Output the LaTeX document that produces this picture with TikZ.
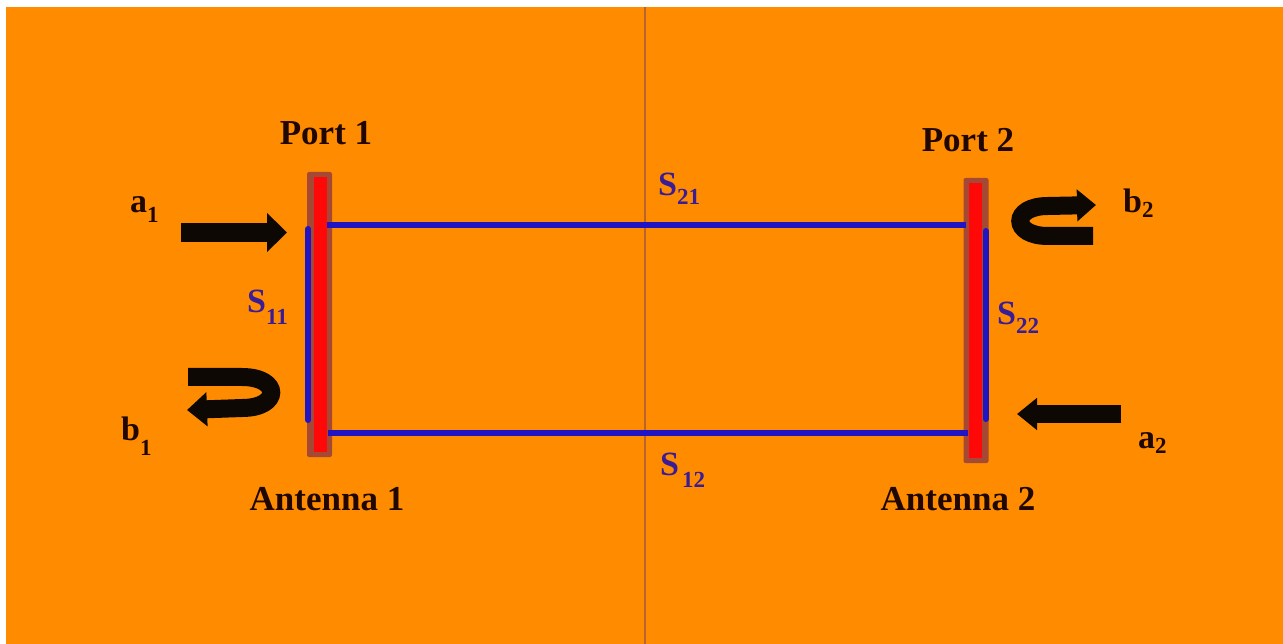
\documentclass[tikz,border=0pt]{standalone}
\usepackage{fontspec}
\setmainfont{Liberation Serif}
\usetikzlibrary{arrows.meta}

\definecolor{bgorange}{RGB}{255,140,0}
\definecolor{divider}{RGB}{185,100,45}
\definecolor{barbrown}{RGB}{165,72,52}
\definecolor{barred}{RGB}{255,8,8}
\definecolor{pathblue}{RGB}{32,20,195}
\definecolor{sink}{RGB}{58,28,150}
\definecolor{ink}{RGB}{32,8,0}
\definecolor{waveink}{RGB}{14,8,4}

% lowered subscript: #1 = drop below the baseline, #2 = digits
\newcommand\lowsub[2]{\raisebox{-#1pt}{\fontsize{23}{23}\selectfont #2}}

\tikzset{
  lbl/.style={anchor=base west, inner sep=0pt, text=ink,
              font=\bfseries\fontsize{34}{34}\selectfont},
  slbl/.style={lbl, text=sink},
  title/.style={anchor=base, inner sep=0pt, text=ink,
                font=\bfseries\fontsize{35}{35}\selectfont},
  bar/.style={draw=none, fill=barbrown, rounded corners=2pt,
              minimum width=25pt, minimum height=285pt, inner sep=0pt},
  core/.style={draw=none, fill=barred,
               minimum width=13pt, minimum height=274pt, inner sep=0pt},
  sline/.style={pathblue, line width=6pt},
  rline/.style={pathblue, line width=6pt, line cap=round},
  wave/.style={waveink, line width=19pt},
}

\begin{document}
\begin{tikzpicture}[x=1pt, y=-1pt]
\useasboundingbox (0,0) rectangle (1283,644);
\fill[white] (0,0) rectangle (1283,644);
\fill[bgorange] (6,7) rectangle (1283,644);

% centre divider
\coordinate (dtop) at (645,7);
\coordinate (dbot) at (645,644);
\draw[divider, line width=1.6pt] (dtop) -- (dbot);

% antennas
\node[bar] (ant1) at (319.5,314.5) {};
\node[core] (core1) at (320,314.5) {};
\node[bar] (ant2) at (976,320.5) {};
\node[core] (core2) at (975,320.5) {};

% transmission paths between the ports
\coordinate (t1) at (327,225);
\coordinate (t2) at (966,225);
\coordinate (u1) at (328,432.5);
\coordinate (u2) at (968,432.5);
\draw[sline] (t1) -- (t2);
\draw[sline] (u1) -- (u2);

% reflection paths
\coordinate (r1a) at (308,229);
\coordinate (r1b) at (308,420);
\coordinate (r2a) at (986,231);
\coordinate (r2b) at (986,419);
\draw[rline] (r1a) -- (r1b);
\draw[rline] (r2a) -- (r2b);

% titles
\node[title] (port1) at (326,145) {Port 1};
\node[title] (port2) at (968,152) {Port 2};
\node[title] (antname1) at (327,510) {Antenna 1};
\node[title] (antname2) at (958,510) {Antenna 2};

% wave labels
\node[lbl] (a1) at (130,213) {a\lowsub{10}{1}};
\node[lbl] (b1) at (121,440) {b\lowsub{15}{1}};
\node[lbl] (b2) at (1123,213) {b\lowsub{5}{2}};
\node[lbl] (a2) at (1138,448) {a\lowsub{5}{2}};

% scattering parameters
\node[slbl] (s11) at (247,313) {S\lowsub{12}{11}};
\node[slbl] (s21) at (658,196) {S\lowsub{9}{21}};
\node[slbl] (s12) at (660,475) {S\hspace{3pt}\lowsub{12}{12}};
\node[slbl] (s22) at (997,325) {S\lowsub{9}{22}};

% incident waves
\coordinate (a1s) at (181,232.5);
\coordinate (a1e) at (287,232.5);
\draw[wave, -{Triangle[length=20pt,width=38pt]}] (a1s) -- (a1e);
\coordinate (a2s) at (1121,414);
\coordinate (a2e) at (1017,414);
\draw[wave, line width=18pt, -{Triangle[length=20pt,width=31pt]}] (a2s) -- (a2e);

% reflected waves
\coordinate (b1s) at (188,377);
\coordinate (b1e) at (187,410);
\draw[wave, line width=18pt, -{Triangle[length=20pt,width=33pt]}]
  (b1s) -- (242,377) .. controls (281,377) and (281,408) .. (242,408) -- (b1e);
\coordinate (b2s) at (1093,236);
\coordinate (b2e) at (1096,205);
\draw[wave, line width=18pt, -{Triangle[length=19pt,width=31pt]}]
  (b2s) -- (1048,236) .. controls (1011,236) and (1011,206) .. (1048,206) -- (b2e);
\end{tikzpicture}
\end{document}
